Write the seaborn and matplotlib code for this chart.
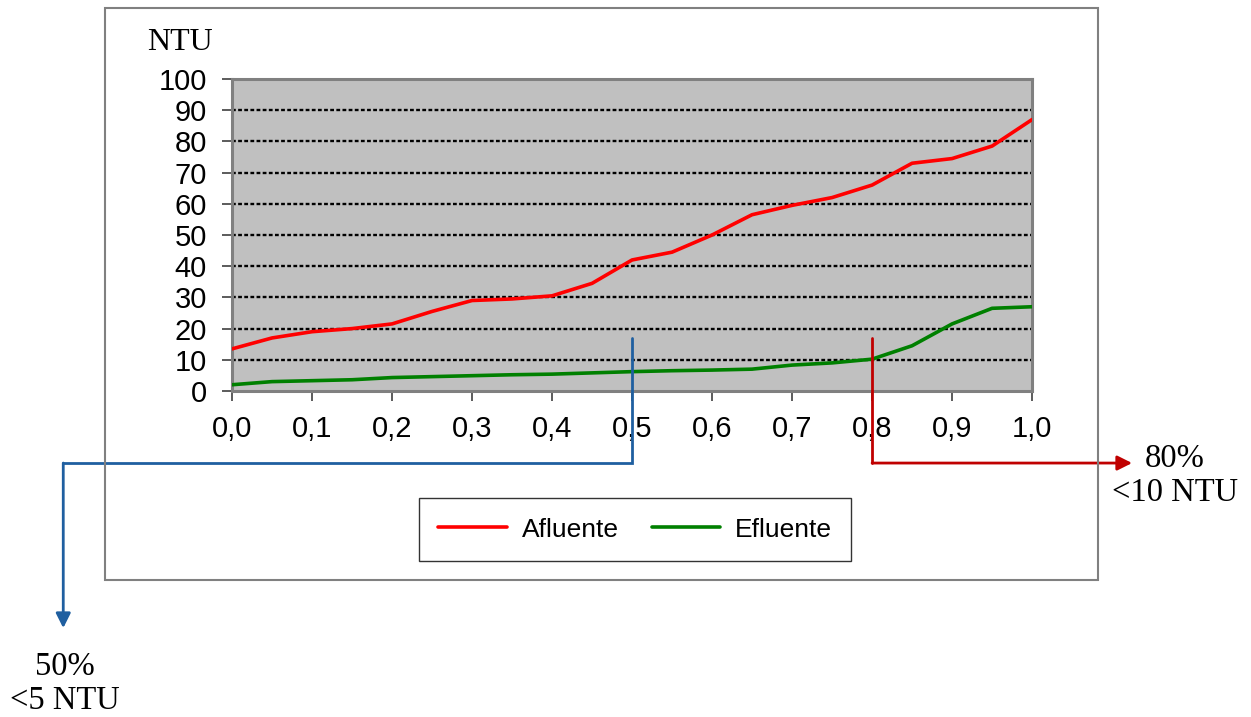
import matplotlib
matplotlib.use("Agg")
import matplotlib.pyplot as plt
import matplotlib.patches as mpatches
import pandas as pd
import seaborn as sns

# Cumulative frequency (fraction of samples) vs turbidity
frequency = [0.00, 0.05, 0.10, 0.15, 0.20, 0.25, 0.30, 0.35, 0.40, 0.45, 0.50,
             0.55, 0.60, 0.65, 0.70, 0.75, 0.80, 0.85, 0.90, 0.95, 1.00]
afluente = [13.5, 17.0, 19.0, 20.0, 21.5, 25.5, 29.0, 29.5, 30.5, 34.5, 42.0,
            44.5, 50.0, 56.5, 59.5, 62.0, 66.0, 73.0, 74.5, 78.5, 87.0]
efluente = [2.0, 3.0, 3.3, 3.6, 4.3, 4.6, 4.9, 5.2, 5.4, 5.8, 6.2,
            6.5, 6.7, 7.0, 8.3, 9.0, 10.2, 14.5, 21.5, 26.5, 27.0]
series_names = ["Afluente", "Efluente"]
series_colors = ["#FF0000", "#008000"]
x_ticks = [0.0, 0.1, 0.2, 0.3, 0.4, 0.5, 0.6, 0.7, 0.8, 0.9, 1.0]
y_ticks = [0, 10, 20, 30, 40, 50, 60, 70, 80, 90, 100]

df = pd.DataFrame({
    "freq": frequency * 2,
    "ntu": afluente + efluente,
    "serie": [series_names[0]] * len(frequency) + [series_names[1]] * len(frequency),
})

sns.set_theme(style="white")
plt.rcParams["font.family"] = ["Liberation Sans", "DejaVu Sans"]
plt.rcParams["text.color"] = "black"
serif = ["Liberation Serif", "DejaVu Serif"]

fig = plt.figure(figsize=(12.51, 7.17), dpi=100)
fig.patch.set_facecolor("white")

# outer chart frame
fig.patches.append(mpatches.Rectangle((0.0839, 0.1911), 0.7938, 0.7978,
                                      transform=fig.transFigure, fill=False,
                                      edgecolor="#808080", linewidth=1.5, zorder=0))

ax = fig.add_axes([0.1855, 0.4547, 0.6395, 0.4351])
ax.set_facecolor("#C0C0C0")

sns.lineplot(data=df, x="freq", y="ntu", hue="serie", palette=series_colors,
             linewidth=2.6, ax=ax, legend=False, zorder=3)
for ln in ax.lines:
    ln.set_solid_joinstyle("round")
    ln.set_solid_capstyle("round")

ax.set_xlim(0, 1)
ax.set_ylim(0, 100)
ax.set_xticks(x_ticks)
ax.set_xticklabels([f"{v:.1f}".replace(".", ",") for v in x_ticks])
ax.set_yticks(y_ticks)
ax.set_yticklabels([str(v) for v in y_ticks])
ax.set_xlabel("")
ax.set_ylabel("")
ax.tick_params(axis="both", which="major", direction="out", length=7, width=1.2,
               color="#404040", labelsize=21, labelcolor="black", bottom=True, left=True)
ax.tick_params(axis="x", pad=10)
ax.tick_params(axis="y", pad=11)

for y in y_ticks[1:-1]:
    ax.axhline(y, color="black", linestyle=(0, (1.6, 1.0)), linewidth=1.7, zorder=1)

for side in ["top", "right", "bottom", "left"]:
    ax.spines[side].set_color("#808080")
    ax.spines[side].set_linewidth(2.2)
    ax.spines[side].set_visible(True)

fig.text(0.144, 0.941, "NTU", fontsize=23, family=serif, ha="center", va="center")

# legend
handles = [plt.Line2D([], [], color=c, linewidth=2.6) for c in series_colors]
leg = fig.legend(handles, series_names, ncol=2, loc="center",
                 bbox_to_anchor=(0.5076, 0.2615), fontsize=19, frameon=True,
                 fancybox=False, edgecolor="black", handlelength=2.6,
                 columnspacing=1.25, handletextpad=0.55, borderpad=0.75,
                 borderaxespad=0, labelcolor="black")
leg.get_frame().set_linewidth(1.0)

# threshold markers
blue = "#1F5FA0"
red = "#C00000"
drop = -23.1
ax.plot([0.5, 0.5, -0.211], [17, drop, drop], color=blue, linewidth=2,
        clip_on=False, zorder=5, solid_joinstyle="miter")
ax.annotate("", xy=(-0.211, -76), xytext=(-0.211, drop), xycoords="data",
            annotation_clip=False,
            arrowprops=dict(arrowstyle="-|>", color=blue, lw=2, mutation_scale=22,
                            shrinkA=0, shrinkB=0))
ax.plot([0.8, 0.8], [17, drop], color=red, linewidth=2, clip_on=False, zorder=5)
ax.annotate("", xy=(1.125, drop), xytext=(0.8, drop), xycoords="data",
            annotation_clip=False,
            arrowprops=dict(arrowstyle="-|>", color=red, lw=2, mutation_scale=22,
                            shrinkA=0, shrinkB=0))

fig.text(0.052, 0.046, "50%\n<5 NTU", fontsize=23.5, family=serif, ha="center",
         va="center", linespacing=1.15)
fig.text(0.939, 0.337, "80%\n<10 NTU", fontsize=23.5, family=serif, ha="center",
         va="center", linespacing=1.15)

fig.savefig("out.png", dpi=100, facecolor="white")
